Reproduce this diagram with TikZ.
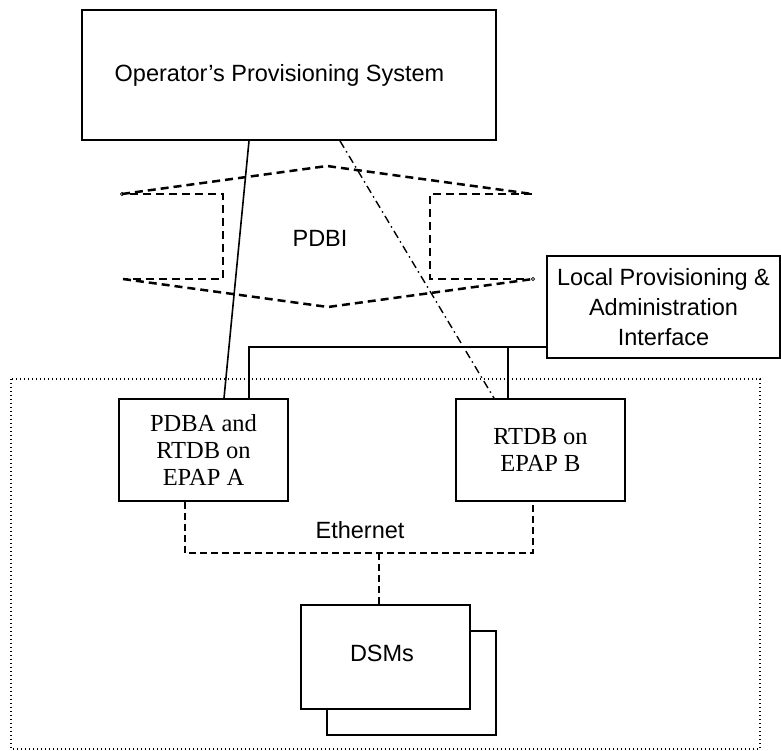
\documentclass[tikz,border=0pt]{standalone}
\usepackage{fontspec}
\setmainfont{Liberation Serif}
\setsansfont{Liberation Sans}
\usepackage{tikz}
\usetikzlibrary{calc, positioning}

\begin{document}
\begin{tikzpicture}[x=1pt, y=-1pt,
  unit/.style={draw, line width=1.8pt, fill=white, minimum width=169pt, minimum height=102pt, align=center, inner sep=0pt},
  sflabel/.style={font=\sffamily\fontsize{23.5}{30}\selectfont},
  rmlabel/.style={font=\rmfamily\fontsize{24.5}{27}\selectfont},
  pdbi/.style={line width=2.5pt, dash pattern=on 8pt off 5pt},
  ether/.style={line width=2.6pt, dash pattern=on 7pt off 4pt},
  link/.style={line width=1.6pt}
]
  \useasboundingbox (0,0) rectangle (781,751);
  % node system enclosure
  \draw[line width=1.2pt, dash pattern=on 1.2pt off 2.8pt] (11,379) rectangle (760,749);

  % boxes
  \node[unit, sflabel, minimum width=414pt, minimum height=130pt] (ops) at (289,75) {Operator’s Provisioning System\hspace*{19pt}};
  \node[unit, rmlabel] (pdba) at (203.5,450) {PDBA and\\RTDB on\\EPAP A};
  \node[unit, rmlabel] (rtdbb) at (540.5,450) {RTDB on\\EPAP B};
  \node[unit, sflabel, minimum width=233pt] (lpai) at (663.5,307) {Local Provisioning \&\\Administration\\Interface};
  \node[unit, minimum height=104pt] (dsmsback) at (411.5,683) {};
  \node[unit, minimum height=104pt] (dsms) at (385.5,657) {};
  \node[sflabel] (dsmslabel) at (382,653) {DSMs};

  % PDBI cloud
  \draw[pdbi] (122,194) -- (327,166) -- (532,194);
  \draw[pdbi] (123,279) -- (328,307) -- (533,279);
  \draw[pdbi] (130,194) -- (223,194) -- (223,279) -- (123,279);
  \draw[pdbi] (532,194) -- (430,194) -- (430,279) -- (530,279);
  \draw[line width=0.6pt] (122,194) circle (1.6pt);
  \draw[line width=0.6pt] (533,279) circle (1.6pt);
  \node[sflabel] (pdbilabel) at (320,238) {PDBI};

  % provisioning links
  \draw[link] ([xshift=-40pt]ops.south) -- ([xshift=20.5pt]pdba.north);
  \draw[line width=1.4pt, dash pattern=on 8pt off 4pt on 1.5pt off 4pt] ([xshift=51pt]ops.south) -- ([xshift=-46.5pt]rtdbb.north);
  \coordinate (lpaibus) at ([yshift=-40pt]lpai.west);
  \draw[link] (lpaibus) -| ([xshift=45.5pt]pdba.north);
  \draw[link] ([xshift=-32.5pt]rtdbb.north) |- (lpaibus);

  % ethernet
  \coordinate (bus) at (379,553);
  \draw[ether] ([xshift=-18.5pt]pdba.south) |- (bus) -| ([xshift=-7.5pt]rtdbb.south);
  \draw[ether] (bus) -- (bus |- dsms.north);
  \node[sflabel] (ethlabel) at (360,530) {Ethernet};
\end{tikzpicture}
\end{document}
